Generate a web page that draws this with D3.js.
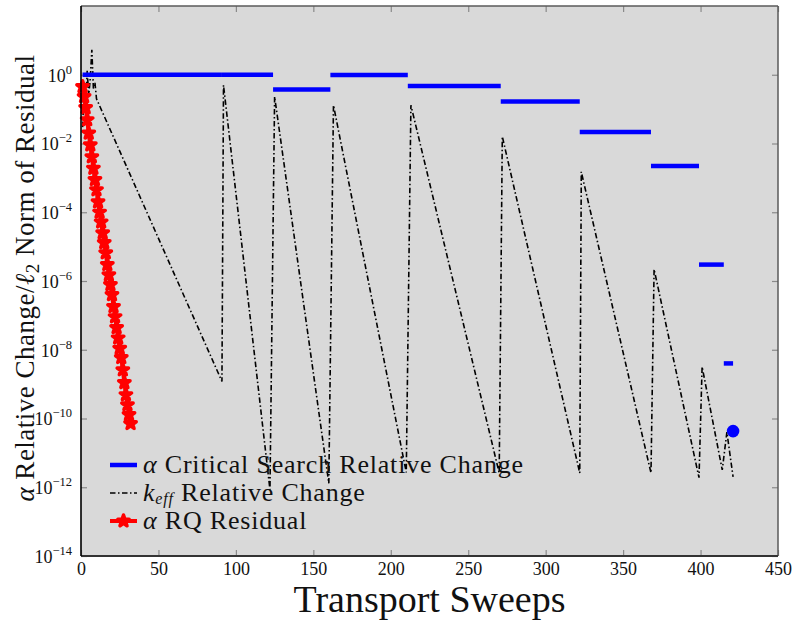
<!DOCTYPE html>
<html>
<head>
<meta charset="utf-8">
<script src="https://d3js.org/d3.v7.min.js"></script>
<style>
  body { margin: 0; background: #fff; }
  svg { display: block; font-family: "Liberation Serif", "Times New Roman", serif; }
</style>
</head>
<body>
<svg></svg>
<script>
// alpha critical search: value i holds from alphaSweeps[i] to alphaSweeps[i+1], the last one is a lone point
const alphaSweeps = [1, 91, 124, 161, 211, 271, 322, 368, 399, 415, 421];
const alphaChange = [1.0, 1.0, 0.37, 0.98, 0.47, 0.167, 0.0215, 0.0022, 3.0e-6, 4.0e-9, 4.3e-11];

// k_eff relative change, vertices of the dash-dot trace
const keffSweeps = [1, 2, 3, 4, 5, 6, 7, 8, 9, 10, 91, 92, 122, 125, 160, 163, 210, 213,
                    270, 272, 322, 323, 368, 370, 399, 401, 414, 417, 421];
const keffChange = [3e-2, 0.35, 0.12, 1.3, 0.25, 0.8, 5.3, 0.4, 0.6, 0.2, 1.2e-9, 0.5, 8.5e-13, 0.23,
                    1.3e-12, 0.13, 2.7e-12, 0.13, 2.6e-12, 1.6e-2, 2.6e-12, 1.5e-3, 2.6e-12, 2.2e-6,
                    1.9e-12, 3.2e-9, 3.2e-12, 4e-11, 2.0e-12];

// alpha RQ residual, one point per sweep
const rqSweeps = [1, 2, 3, 4, 5, 6, 7, 8, 9, 10, 11, 12, 13, 14, 15, 16,
                  17, 18, 19, 20, 21, 22, 23, 24, 25, 26, 27, 28, 29, 30, 31, 32];
const rqResidual = [0.45, 0.23, 0.11, 4.9e-2, 2.0e-2, 9.1e-3, 4.1e-3, 1.9e-3, 8.9e-4, 4.5e-4, 2.0e-4,
                    1.0e-4, 5.2e-5, 2.5e-5, 1.3e-5, 6.6e-6, 3.0e-6, 1.5e-6, 7.8e-7, 4.0e-7, 1.8e-7,
                    9.1e-8, 4.4e-8, 2.2e-8, 1.1e-8, 5.9e-9, 2.6e-9, 1.1e-9, 4.9e-10, 2.5e-10,
                    1.3e-10, 7.1e-11];

const xTicks = [0, 50, 100, 150, 200, 250, 300, 350, 400, 450];
const yTickExps = [-14, -12, -10, -8, -6, -4, -2, 0];
const legendLabels = ["Critical Search Relative Change", "Relative Change", "RQ Residual"];

const width = 793,
      height = 627,
      pLeft = 81, pRight = 778,         // plot box
      pTop = 6, pBottom = 556,
      bg = "#d9d9d9",
      blue = "#0000ff",
      red = "#ff0000";

const svg = d3.select("svg")
  .attr("width", width)
  .attr("height", height);

const x = d3.scaleLinear().domain([0, 450]).range([pLeft, pRight]);
const y = d3.scaleLog().domain([1e-14, 1e2]).range([pBottom, pTop]);

svg.append("rect")
  .attr("x", x(0))
  .attr("y", y(1e2))
  .attr("width", x(450) - x(0))
  .attr("height", y(1e-14) - y(1e2))
  .attr("fill", bg);

// ticks (inside, mirrored)
const tickCol = "#8a8a8a";
function styleAxis(g) {
  g.select(".domain").remove();
  g.selectAll(".tick line").attr("stroke", tickCol).attr("stroke-width", 1.2);
  g.selectAll(".tick text").attr("fill", "#111").attr("font-size", 18)
    .attr("font-family", "Liberation Serif, serif");
}

svg.append("g")
  .attr("transform", "translate(0," + pBottom + ")")
  .call(d3.axisBottom(x).tickValues(xTicks).tickSize(-6).tickPadding(6).tickFormat(d3.format("d")))
  .call(styleAxis);

svg.append("g")
  .attr("transform", "translate(0," + pTop + ")")
  .call(d3.axisTop(x).tickValues(xTicks).tickSize(-6).tickFormat(""))
  .call(styleAxis);

const yTicks = yTickExps.map(e => Math.pow(10, e));

svg.append("g")
  .attr("transform", "translate(" + pLeft + ",0)")
  .call(d3.axisLeft(y).tickValues(yTicks).tickSize(-6).tickPadding(9).tickFormat(""))
  .call(styleAxis)
  .call(g => g.selectAll(".tick text").each(function(d, i) {
    const t = d3.select(this).attr("dy", "0.36em");
    t.append("tspan").text("10");
    t.append("tspan")
      .attr("dy", -8)
      .attr("font-size", 12.5)
      .text(yTickExps[i] < 0 ? "\u2212" + (-yTickExps[i]) : yTickExps[i]);
  }));

svg.append("g")
  .attr("transform", "translate(" + pRight + ",0)")
  .call(d3.axisRight(y).tickValues(yTicks).tickSize(-6).tickFormat(""))
  .call(styleAxis);

// k_eff dash-dot trace
const line = d3.line().x(d => x(d[0])).y(d => y(d[1]));
const dashDot = "5.5,2.5,1.5,2.5";

svg.append("path")
  .datum(d3.zip(keffSweeps, keffChange))
  .attr("d", line)
  .attr("fill", "none")
  .attr("stroke", "#000")
  .attr("stroke-width", 1.6)
  .attr("stroke-dasharray", dashDot);

// alpha critical search steps
const steps = alphaChange.slice(0, -1).map((v, i) => [alphaSweeps[i], alphaSweeps[i + 1], v]);

svg.selectAll(".step")
  .data(steps)
  .enter().append("line")
  .attr("class", "step")
  .attr("x1", d => x(d[0]))
  .attr("x2", d => x(d[1]))
  .attr("y1", d => y(d[2]))
  .attr("y2", d => y(d[2]))
  .attr("stroke", blue)
  .attr("stroke-width", 4.5);

svg.append("circle")
  .attr("cx", x(alphaSweeps[alphaSweeps.length - 1]))
  .attr("cy", y(alphaChange[alphaChange.length - 1]))
  .attr("r", 6.3)
  .attr("fill", blue);

// alpha RQ residual
const rq = d3.zip(rqSweeps, rqResidual);
const star = d3.symbol().type(d3.symbolStar).size(40);

svg.append("path")
  .datum(rq)
  .attr("d", line)
  .attr("fill", "none")
  .attr("stroke", red)
  .attr("stroke-width", 4);

svg.selectAll(".rq")
  .data(rq)
  .enter().append("path")
  .attr("class", "rq")
  .attr("d", star)
  .attr("transform", d => "translate(" + x(d[0]) + "," + y(d[1]) + ")")
  .attr("fill", red)
  .attr("stroke", red)
  .attr("stroke-width", 3.5)
  .attr("stroke-linejoin", "round");

// frame
const frame = svg.append("g").attr("fill", "none");
frame.append("line").attr("x1", pLeft).attr("x2", pRight).attr("y1", pTop).attr("y2", pTop)
  .attr("stroke", "#5a5a5a").attr("stroke-width", 1.5);
frame.append("line").attr("x1", pRight).attr("x2", pRight).attr("y1", pTop).attr("y2", pBottom)
  .attr("stroke", "#5a5a5a").attr("stroke-width", 1.5);
frame.append("line").attr("x1", pLeft).attr("x2", pRight).attr("y1", pBottom).attr("y2", pBottom)
  .attr("stroke", "#333").attr("stroke-width", 2);
frame.append("line").attr("x1", pLeft).attr("x2", pLeft).attr("y1", pTop).attr("y2", pBottom)
  .attr("stroke", "#000").attr("stroke-width", 1.6);

// legend
const lx = 110, lw = 27, ly = 465, lstep = 28, lfont = 26;
const leg = svg.append("g").attr("font-size", lfont).attr("letter-spacing", 0.8).attr("fill", "#111");

leg.append("line").attr("x1", lx).attr("x2", lx + lw).attr("y1", ly).attr("y2", ly)
  .attr("stroke", blue).attr("stroke-width", 4.5);
leg.append("line").attr("x1", lx).attr("x2", lx + lw).attr("y1", ly + lstep).attr("y2", ly + lstep)
  .attr("stroke", "#000").attr("stroke-width", 1.6).attr("stroke-dasharray", dashDot);
leg.append("line").attr("x1", lx).attr("x2", lx + lw).attr("y1", ly + 2 * lstep).attr("y2", ly + 2 * lstep)
  .attr("stroke", red).attr("stroke-width", 4);
leg.append("path").attr("d", star)
  .attr("transform", "translate(" + (lx + lw / 2) + "," + (ly + 2 * lstep) + ")")
  .attr("fill", red).attr("stroke", red).attr("stroke-width", 3.5).attr("stroke-linejoin", "round");

const t1 = leg.append("text").attr("x", lx + lw + 6).attr("y", ly + 8);
t1.append("tspan").attr("font-style", "italic").text("\u03b1");
t1.append("tspan").text(" " + legendLabels[0]);

const t2 = leg.append("text").attr("x", lx + lw + 6).attr("y", ly + lstep + 8);
t2.append("tspan").attr("font-style", "italic").text("k");
t2.append("tspan").attr("font-style", "italic").attr("font-size", 16).attr("dy", 3).text("eff");
t2.append("tspan").attr("dy", -3).text(" " + legendLabels[1]);

const t3 = leg.append("text").attr("x", lx + lw + 6).attr("y", ly + 2 * lstep + 8);
t3.append("tspan").attr("font-style", "italic").text("\u03b1");
t3.append("tspan").text(" " + legendLabels[2]);

// axis titles
svg.append("text")
  .attr("x", (pLeft + pRight) / 2)
  .attr("y", 612)
  .attr("text-anchor", "middle")
  .attr("font-size", 38)
  .attr("fill", "#111")
  .text("Transport Sweeps");

const yl = svg.append("text")
  .attr("transform", "translate(34," + ((pTop + pBottom) / 2 - 3) + ") rotate(-90)")
  .attr("text-anchor", "middle")
  .attr("font-size", 27)
  .attr("letter-spacing", 0.5)
  .attr("fill", "#111");
yl.append("tspan").attr("font-style", "italic").text("\u03b1");
yl.append("tspan").text(" Relative Change/");
yl.append("tspan").attr("font-style", "italic").text("\u2113");
yl.append("tspan").attr("font-size", 19).attr("dy", 5).text("2");
yl.append("tspan").attr("dy", -5).text(" Norm of Residual");
</script>
</body>
</html>
